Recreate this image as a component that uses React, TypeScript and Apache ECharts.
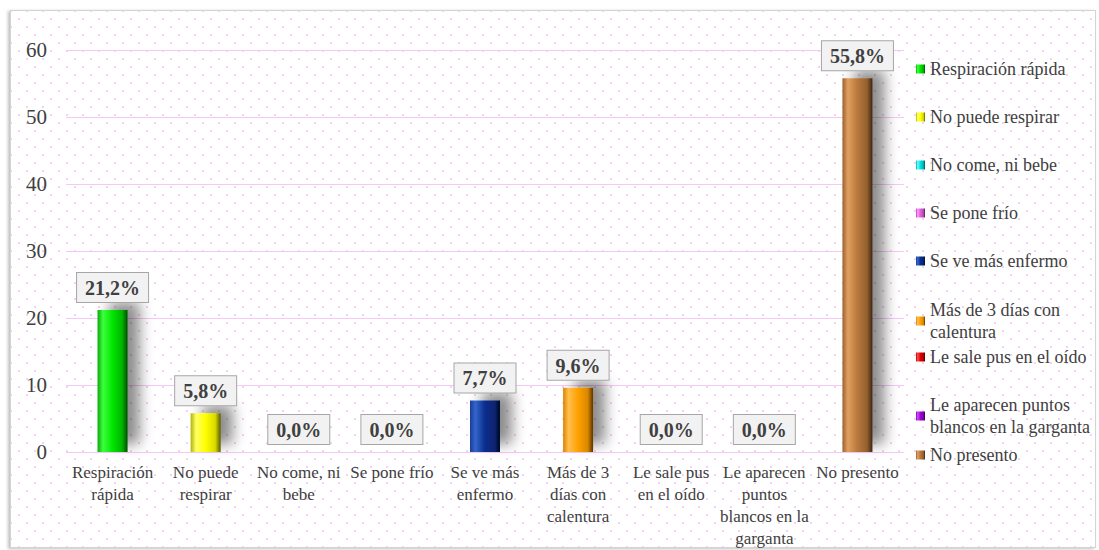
import React, { useEffect, useRef } from "react";
import * as echarts from "echarts";

const categories = [
  "Respiración rápida",
  "No puede respirar",
  "No come, ni bebe",
  "Se pone frío",
  "Se ve más enfermo",
  "Más de 3 días con calentura",
  "Le sale pus en el oído",
  "Le aparecen puntos blancos en la garganta",
  "No presento",
];
const values = [21.2, 5.8, 0.0, 0.0, 7.7, 9.6, 0.0, 0.0, 55.8];
const yTicks = [0, 10, 20, 30, 40, 50, 60];

const xLabelLines = [
  "Respiración\nrápida",
  "No puede\nrespirar",
  "No come, ni\nbebe",
  "Se pone frío",
  "Se ve más\nenfermo",
  "Más de 3\ndías con\ncalentura",
  "Le sale pus\nen el oído",
  "Le aparecen\npuntos\nblancos en la\ngarganta",
  "No presento",
];

// bevel shades: [edgeLeft, highlight, base, shade, edgeRight]
const palette = [
  ["#0aa80a", "#3dff3d", "#00e600", "#00b300", "#004d00"],
  ["#b3b300", "#ffff66", "#ffff00", "#d9d900", "#595900"],
  ["#00a8a8", "#66ffff", "#00e0e0", "#00b3b3", "#004d4d"],
  ["#b040b0", "#ff99ff", "#e060e0", "#b34db3", "#4d1a4d"],
  ["#1a3d99", "#3366cc", "#0a2d8c", "#082470", "#020a26"],
  ["#d98200", "#ffc04d", "#ffa000", "#d98800", "#593300"],
  ["#b30000", "#ff4d4d", "#e00000", "#b30000", "#4d0000"],
  ["#8000a8", "#cc4dff", "#a000d0", "#8000a8", "#33004d"],
  ["#9c6030", "#e0a060", "#b8783c", "#946030", "#3d2410"],
];

const legendTops = [58, 106, 154, 202, 250, 299, 346, 394, 444];
const legendLabels = [
  "Respiración rápida",
  "No puede respirar",
  "No come, ni bebe",
  "Se pone frío",
  "Se ve más enfermo",
  "Más de 3 días con\ncalentura",
  "Le sale pus en el oído",
  "Le aparecen puntos\nblancos en la garganta",
  "No presento",
];

const fmt = (v: number) => v.toFixed(1).replace(".", ",") + "%";

export default function App() {
  const ref = useRef<HTMLDivElement>(null);
  useEffect(() => {
    if (!ref.current) return;
    const chart = echarts.init(ref.current, undefined, { renderer: "svg" });
    const font = "'Liberation Serif', 'Times New Roman', serif";
    const series = categories.map((name, i) => ({
      name,
      type: "bar",
      barWidth: 30,
      barGap: "-100%",
      data: values.map((v, j) => (j === i ? v : "-")),
      itemStyle: {
        color: new echarts.graphic.LinearGradient(0, 0, 1, 0, [
          { offset: 0, color: palette[i][0] },
          { offset: 0.18, color: palette[i][1] },
          { offset: 0.5, color: palette[i][2] },
          { offset: 0.82, color: palette[i][3] },
          { offset: 1, color: palette[i][4] },
        ]),
        shadowColor: "rgba(0,0,0,0.45)",
        shadowBlur: 14,
        shadowOffsetX: 12,
        shadowOffsetY: -8,
      },
      label: {
        show: true,
        position: "top",
        distance: 8,
        formatter: (p: any) => (typeof p.value === "number" ? fmt(p.value) : ""),
        fontFamily: font,
        fontWeight: "bold",
        fontSize: 20,
        color: "#404040",
        backgroundColor: "#f2f2f2",
        borderColor: "#a6a6a6",
        borderWidth: 1,
        padding: [5, 8, 4, 8],
      },
    }));
    const legends = categories.map((name, i) => ({
      data: [name],
      left: 916,
      top: legendTops[i],
      orient: "vertical",
      icon: "rect",
      itemWidth: 9,
      itemHeight: 9,
      itemGap: 0,
      padding: 0,
      formatter: () => legendLabels[i],
      textStyle: {
        fontFamily: font,
        fontSize: 18,
        color: "#404040",
        lineHeight: 22,
      },
      selectedMode: false,
    }));
    chart.setOption({
      animation: false,
      backgroundColor: "transparent",
      grid: { left: 66, right: 195, top: 50, bottom: 98 },
      legend: legends,
      xAxis: {
        type: "category",
        data: categories,
        axisLine: { show: false },
        axisTick: { show: false },
        axisLabel: {
          interval: 0,
          margin: 9,
          fontFamily: font,
          fontSize: 17,
          color: "#404040",
          lineHeight: 22,
          formatter: (_v: string, idx: number) => xLabelLines[idx],
        },
      },
      yAxis: {
        type: "value",
        min: yTicks[0],
        max: yTicks[yTicks.length - 1],
        interval: 10,
        axisLine: { show: false },
        axisTick: { show: false },
        splitLine: { lineStyle: { color: "#f7c8f7", width: 1 } },
        axisLabel: {
          margin: 19,
          fontFamily: font,
          fontSize: 21,
          color: "#404040",
        },
      },
      series,
    });
    return () => chart.dispose();
  }, []);
  return (
    <div
      style={{
        position: "fixed",
        left: 0,
        top: 0,
        width: 1099,
        height: 550,
        background: "#ffffff",
      }}
    >
      <div
        style={{
          position: "absolute",
          left: 10,
          top: 10,
          width: 1084,
          height: 536,
          border: "1px solid #d4d4d4",
          boxShadow: "-2px 1px 3px rgba(0,0,0,0.25)",
          backgroundColor: "#ffffff",
          backgroundImage:
            "radial-gradient(circle, #f6d0f6 0.9px, transparent 1.3px), radial-gradient(circle, #f6d0f6 0.9px, transparent 1.3px)",
          backgroundSize: "16px 16px",
          backgroundPosition: "0 0, 8px 8px",
        }}
      />
      <div ref={ref} style={{ position: "absolute", left: 0, top: 0, width: 1099, height: 550 }} />
    </div>
  );
}
